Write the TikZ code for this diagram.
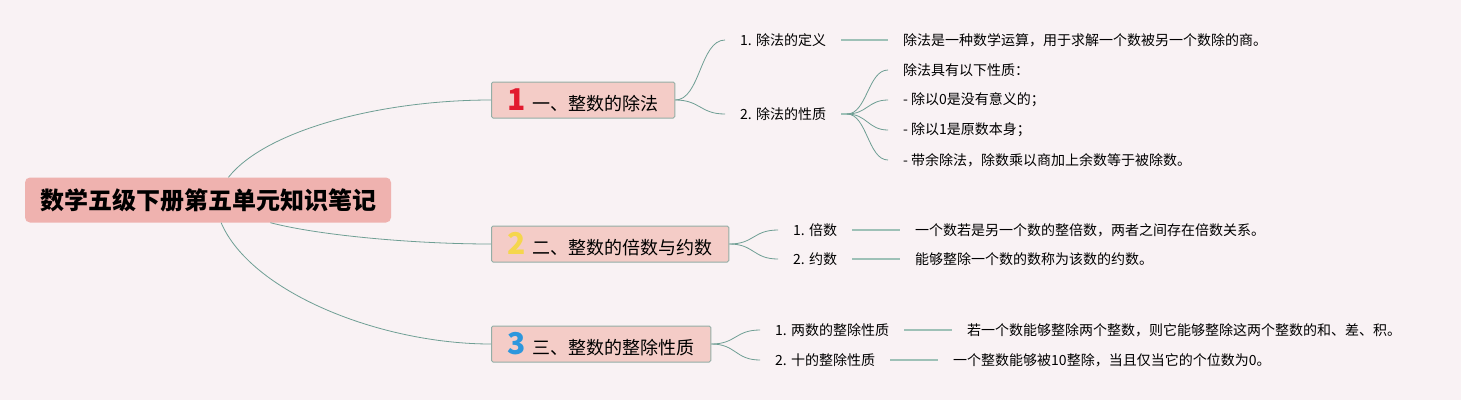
\documentclass[tikz,border=0pt]{standalone}
\usepackage{fontspec}
\setmainfont{Noto Sans CJK SC}
\definecolor{fondrose}{HTML}{F9F2F4}
\definecolor{racine}{HTML}{EFB2AF}
\definecolor{branchefond}{HTML}{F4CCC7}
\definecolor{branchebord}{HTML}{93AEA6}
\definecolor{lienvert}{HTML}{6F9F94}
\definecolor{traitvert}{HTML}{9EC1B7}
\definecolor{numrouge}{HTML}{E21A2E}
\definecolor{numjaune}{HTML}{F5D64C}
\definecolor{numbleu}{HTML}{2D97DD}
\newcommand\numero[2]{{\color{#1}\fontsize{30pt}{30pt}\selectfont\bfseries #2}\hspace{7pt}}

\begin{document}
\begin{tikzpicture}[x=1pt,y=-1pt]
\tikzset{racinoeud/.style={fill=racine, rounded corners=5pt, minimum height=45pt, inner xsep=15pt, font=\fontsize{24pt}{28pt}\selectfont\bfseries}}
\tikzset{branoeud/.style={fill=branchefond, draw=branchebord, line width=1pt, rounded corners=1.5pt, minimum height=36pt, inner xsep=16pt, anchor=west, font=\fontsize{18pt}{22pt}\selectfont}}
\tikzset{feuille/.style={anchor=west, inner xsep=15pt, inner ysep=1pt, font=\fontsize{14pt}{17pt}\selectfont}}
\tikzset{lien/.style={draw=lienvert, line width=0.8pt}}
\tikzset{trait/.style={draw=traitvert, line width=1.6pt}}
\fill[fondrose] (0,0) rectangle (1461,400);
\node[racinoeud] (R) at (208,200) {数学五级下册第五单元知识笔记};
\node[branoeud] (B1) at (491,100) {\numero{numrouge}{1}一、整数的除法};
\node[branoeud] (B2) at (491,244) {\numero{numjaune}{2}二、整数的倍数与约数};
\node[branoeud] (B3) at (491,344) {\numero{numbleu}{3}三、整数的整除性质};
\draw[lien] (R.48) .. controls +(37,-47) and +(-111,0) .. (B1.west);
\draw[lien] (R.-20.6) .. controls +(50,13) and +(-75,0) .. (B2.west);
\draw[lien] (R.-60) .. controls +(30,70) and +(-110,0) .. (B3.west);
% premier groupe
\node[feuille] (L11) at (725,40) {1. 除法的定义};
\node[feuille] (L12) at (725,114) {2. 除法的性质};
\node[feuille] (D11) at (888,40) {除法是一种数学运算，用于求解一个数被另一个数除的商。};
\node[feuille] (P1) at (888,70) {除法具有以下性质：};
\node[feuille] (P2) at (888,100) {- 除以0是没有意义的；};
\node[feuille] (P3) at (888,130) {- 除以1是原数本身；};
\node[feuille] (P4) at (888,160) {- 带余除法，除数乘以商加上余数等于被除数。};
\coordinate (H1) at (847,114);
\draw[lien] (B1.east) .. controls +(25,0) and +(-25,0) .. (L11.west);
\draw[lien] (B1.east) .. controls +(25,0) and +(-25,0) .. (L12.west);
\draw[trait] (L11.east) -- (D11.west);
\draw[trait] (L12.east) -- (H1);
\foreach \p in {P1,P2,P3,P4}
  \draw[lien] (H1) .. controls +(20,0) and +(-20,0) .. (\p.west);
% second groupe
\node[feuille] (L21) at (778,230) {1. 倍数};
\node[feuille] (L22) at (778,259) {2. 约数};
\node[feuille] (D21) at (900,230) {一个数若是另一个数的整倍数，两者之间存在倍数关系。};
\node[feuille] (D22) at (900,259) {能够整除一个数的数称为该数的约数。};
\draw[lien] (B2.east) .. controls +(25,0) and +(-25,0) .. (L21.west);
\draw[lien] (B2.east) .. controls +(25,0) and +(-25,0) .. (L22.west);
\draw[trait] (L21.east) -- (D21.west);
\draw[trait] (L22.east) -- (D22.west);
% troisieme groupe
\node[feuille] (L31) at (760,330) {1. 两数的整除性质};
\node[feuille] (L32) at (760,360) {2. 十的整除性质};
\node[feuille] (D31) at (952,330) {若一个数能够整除两个整数，则它能够整除这两个整数的和、差、积。};
\node[feuille] (D32) at (938,360) {一个整数能够被10整除，当且仅当它的个位数为0。};
\draw[lien] (B3.east) .. controls +(25,0) and +(-25,0) .. (L31.west);
\draw[lien] (B3.east) .. controls +(25,0) and +(-25,0) .. (L32.west);
\draw[trait] (L31.east) -- (D31.west);
\draw[trait] (L32.east) -- (D32.west);
\end{tikzpicture}
\end{document}
